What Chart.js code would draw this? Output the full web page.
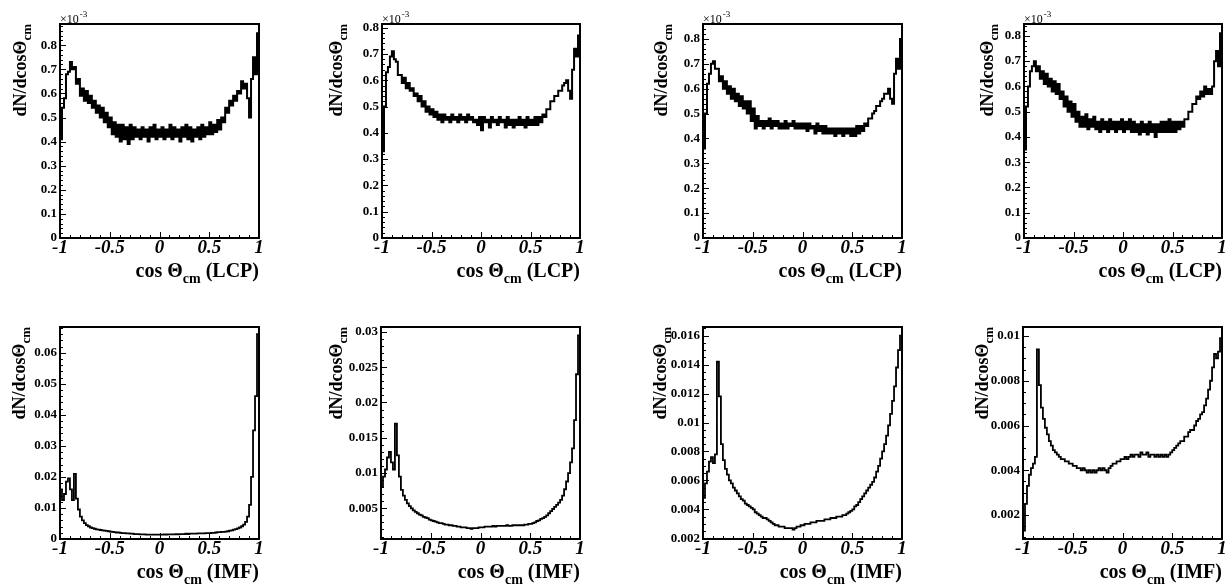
<!DOCTYPE html>
<html>
<head>
<meta charset="utf-8">
<title>cos theta cm distributions</title>
<script src="https://cdn.jsdelivr.net/npm/chart.js@4.4.0/dist/chart.umd.min.js"></script>
<style>
  body { margin: 0; background: #fff; }
  #wrap { position: relative; width: 1232px; height: 587px; overflow: hidden; }
  #wrap canvas { position: absolute; }
</style>
</head>
<body>
<div id="wrap"></div>
<script>
// 100 bins of width 0.02 on [-1, 1]; each series has one value per bin
// plus the value of the narrow last bin drawn at cos = 1
var binLow = -1, binWidth = 0.02, nBins = 100;

// LCP, in units of 1e-3
var lcp1 = [
  0.41, 0.54, 0.58, 0.68, 0.69, 0.73, 0.70, 0.71, 0.64, 0.66,
  0.59, 0.62, 0.57, 0.61, 0.56, 0.59, 0.54, 0.57, 0.52, 0.55,
  0.50, 0.54, 0.48, 0.52, 0.46, 0.50, 0.43, 0.48, 0.42, 0.47,
  0.40, 0.47, 0.41, 0.46, 0.39, 0.47, 0.41, 0.46, 0.42, 0.45,
  0.41, 0.46, 0.42, 0.45, 0.40, 0.46, 0.42, 0.47, 0.41, 0.45,
  0.42, 0.46, 0.41, 0.45, 0.42, 0.47, 0.41, 0.46, 0.42, 0.45,
  0.40, 0.46, 0.42, 0.47, 0.41, 0.46, 0.40, 0.45, 0.42, 0.46,
  0.41, 0.47, 0.42, 0.46, 0.43, 0.48, 0.43, 0.47, 0.44, 0.49,
  0.45, 0.50, 0.48, 0.54, 0.52, 0.57, 0.55, 0.59, 0.57, 0.61,
  0.60, 0.65, 0.62, 0.64, 0.58, 0.50, 0.66, 0.75, 0.68, 0.85,
  0.64
];
var lcp2 = [
  0.33, 0.50, 0.63, 0.65, 0.69, 0.71, 0.68, 0.67, 0.62, 0.62,
  0.59, 0.61, 0.57, 0.59, 0.56, 0.57, 0.54, 0.55, 0.52, 0.54,
  0.50, 0.52, 0.48, 0.50, 0.47, 0.49, 0.46, 0.48, 0.45, 0.47,
  0.44, 0.47, 0.45, 0.46, 0.44, 0.47, 0.45, 0.46, 0.44, 0.47,
  0.45, 0.46, 0.44, 0.47, 0.45, 0.46, 0.44, 0.45, 0.43, 0.46,
  0.41, 0.46, 0.44, 0.45, 0.42, 0.46, 0.44, 0.45, 0.43, 0.46,
  0.44, 0.45, 0.42, 0.46, 0.43, 0.45, 0.42, 0.45, 0.43, 0.46,
  0.43, 0.45, 0.42, 0.46, 0.43, 0.45, 0.43, 0.46, 0.43, 0.46,
  0.44, 0.47, 0.46, 0.49, 0.49, 0.52, 0.52, 0.54, 0.54, 0.56,
  0.56, 0.58, 0.59, 0.60, 0.56, 0.53, 0.64, 0.72, 0.69, 0.77,
  0.65
];
var lcp3 = [
  0.36, 0.50, 0.62, 0.66, 0.70, 0.71, 0.68, 0.68, 0.63, 0.65,
  0.60, 0.63, 0.58, 0.61, 0.56, 0.60, 0.55, 0.58, 0.53, 0.57,
  0.52, 0.55, 0.50, 0.55, 0.47, 0.52, 0.44, 0.49, 0.45, 0.47,
  0.44, 0.47, 0.45, 0.48, 0.44, 0.47, 0.45, 0.47, 0.44, 0.46,
  0.44, 0.47, 0.44, 0.46, 0.45, 0.47, 0.44, 0.46, 0.44, 0.46,
  0.44, 0.46, 0.43, 0.46, 0.44, 0.45, 0.42, 0.46, 0.43, 0.45,
  0.42, 0.45, 0.42, 0.44, 0.42, 0.44, 0.41, 0.44, 0.42, 0.44,
  0.41, 0.44, 0.42, 0.44, 0.41, 0.44, 0.41, 0.45, 0.42, 0.45,
  0.43, 0.46, 0.45, 0.48, 0.48, 0.50, 0.51, 0.53, 0.53, 0.55,
  0.56, 0.58, 0.58, 0.60, 0.56, 0.54, 0.66, 0.72, 0.68, 0.80,
  0.68
];
var lcp4 = [
  0.35, 0.52, 0.60, 0.66, 0.68, 0.70, 0.66, 0.68, 0.63, 0.66,
  0.61, 0.65, 0.60, 0.63, 0.58, 0.62, 0.57, 0.61, 0.55, 0.58,
  0.52, 0.56, 0.50, 0.54, 0.48, 0.53, 0.46, 0.50, 0.44, 0.48,
  0.44, 0.49, 0.43, 0.47, 0.44, 0.48, 0.43, 0.46, 0.42, 0.47,
  0.43, 0.46, 0.42, 0.47, 0.43, 0.46, 0.42, 0.46, 0.43, 0.47,
  0.42, 0.46, 0.43, 0.47, 0.42, 0.46, 0.42, 0.45, 0.41, 0.46,
  0.42, 0.45, 0.41, 0.46, 0.42, 0.45, 0.40, 0.45, 0.42, 0.46,
  0.42, 0.46, 0.42, 0.47, 0.42, 0.46, 0.42, 0.46, 0.43, 0.46,
  0.44, 0.47, 0.47, 0.50, 0.50, 0.53, 0.53, 0.56, 0.55, 0.58,
  0.56, 0.60, 0.57, 0.59, 0.57, 0.60, 0.70, 0.74, 0.68, 0.81,
  0.68
];

// IMF
var imf1 = [
  0.0160, 0.0125, 0.0145, 0.0185, 0.0195, 0.0160, 0.0125, 0.0210, 0.0130, 0.0095,
  0.0072, 0.0060, 0.0051, 0.0045, 0.0041, 0.0037, 0.0035, 0.0033, 0.0031, 0.0030,
  0.0029, 0.0028, 0.0027, 0.0026, 0.0025, 0.0024, 0.0023, 0.0022, 0.0021, 0.0021,
  0.0020, 0.0019, 0.0019, 0.0018, 0.0018, 0.0017, 0.0017, 0.0016, 0.0016, 0.0016,
  0.0015, 0.0015, 0.0015, 0.0014, 0.0014, 0.0014, 0.0014, 0.0014, 0.0014, 0.0014,
  0.0014, 0.0014, 0.0015, 0.0014, 0.0015, 0.0015, 0.0015, 0.0015, 0.0016, 0.0015,
  0.0016, 0.0016, 0.0016, 0.0017, 0.0016, 0.0017, 0.0017, 0.0017, 0.0017, 0.0018,
  0.0018, 0.0018, 0.0018, 0.0019, 0.0019, 0.0019, 0.0020, 0.0020, 0.0021, 0.0022,
  0.0022, 0.0023, 0.0023, 0.0024, 0.0025, 0.0027, 0.0028, 0.0030, 0.0032, 0.0034,
  0.0037, 0.0041, 0.0046, 0.0055, 0.0072, 0.0110, 0.0200, 0.0350, 0.0460, 0.0660,
  0.0300
];
var imf2 = [
  0.0080, 0.0095, 0.0105, 0.0122, 0.0130, 0.0115, 0.0105, 0.0170, 0.0125, 0.0095,
  0.0076, 0.0068, 0.0062, 0.0057, 0.0053, 0.0050, 0.0047, 0.0045, 0.0043, 0.0041,
  0.0040, 0.0038, 0.0037, 0.0036, 0.0034, 0.0033, 0.0032, 0.0031, 0.0030, 0.0029,
  0.0029, 0.0028, 0.0027, 0.0027, 0.0026, 0.0026, 0.0025, 0.0025, 0.0024, 0.0024,
  0.0023, 0.0023, 0.0023, 0.0022, 0.0022, 0.0021, 0.0022, 0.0022, 0.0022, 0.0023,
  0.0023, 0.0023, 0.0024, 0.0024, 0.0024, 0.0024, 0.0025, 0.0024, 0.0025, 0.0025,
  0.0025, 0.0025, 0.0025, 0.0026, 0.0025, 0.0025, 0.0026, 0.0026, 0.0026, 0.0026,
  0.0026, 0.0026, 0.0027, 0.0027, 0.0028, 0.0028, 0.0029, 0.0030, 0.0032, 0.0033,
  0.0035, 0.0036, 0.0038, 0.0040, 0.0043, 0.0046, 0.0049, 0.0052, 0.0055, 0.0058,
  0.0062, 0.0068, 0.0077, 0.0088, 0.0100, 0.0115, 0.0135, 0.0175, 0.0240, 0.0295,
  0.0080
];
var imf3 = [
  0.0048, 0.0058, 0.0066, 0.0073, 0.0076, 0.0072, 0.0078, 0.0142, 0.0118, 0.0085,
  0.0074, 0.0068, 0.0064, 0.0060, 0.0058, 0.0055, 0.0053, 0.0051, 0.0049, 0.0047,
  0.0046, 0.0044, 0.0043, 0.0042, 0.0041, 0.0040, 0.0038, 0.0037, 0.0036, 0.0035,
  0.0034, 0.0034, 0.0033, 0.0032, 0.0031, 0.0030, 0.0029, 0.0029, 0.0028, 0.0028,
  0.0028, 0.0027, 0.0027, 0.0027, 0.0027, 0.0026, 0.0027, 0.0028, 0.0028, 0.0029,
  0.0029, 0.0030, 0.0030, 0.0030, 0.0031, 0.0031, 0.0031, 0.0032, 0.0032, 0.0032,
  0.0032, 0.0033, 0.0033, 0.0033, 0.0034, 0.0034, 0.0034, 0.0035, 0.0035, 0.0035,
  0.0036, 0.0036, 0.0037, 0.0038, 0.0039, 0.0040, 0.0042, 0.0043, 0.0045, 0.0047,
  0.0049, 0.0051, 0.0053, 0.0055, 0.0057, 0.0059, 0.0062, 0.0066, 0.0070, 0.0075,
  0.0080, 0.0085, 0.0091, 0.0098, 0.0106, 0.0115, 0.0125, 0.0138, 0.0150, 0.0160,
  0.0060
];
var imf4 = [
  0.0013, 0.0025, 0.0033, 0.0038, 0.0041, 0.0043, 0.0046, 0.0094, 0.0078, 0.0068,
  0.0063, 0.0059, 0.0056, 0.0053, 0.0051, 0.0049, 0.0048, 0.0047, 0.0046, 0.0045,
  0.0045, 0.0044, 0.0044, 0.0043, 0.0043, 0.0042, 0.0042, 0.0041, 0.0041, 0.0040,
  0.0041, 0.0040, 0.0039, 0.0040, 0.0039, 0.0040, 0.0039, 0.0040, 0.0041, 0.0040,
  0.0041, 0.0040, 0.0039, 0.0041, 0.0042, 0.0043, 0.0043, 0.0044, 0.0044, 0.0045,
  0.0045, 0.0046, 0.0045, 0.0046, 0.0047, 0.0046, 0.0047, 0.0047, 0.0046, 0.0048,
  0.0047, 0.0047, 0.0048, 0.0046, 0.0047, 0.0047, 0.0046, 0.0047, 0.0046, 0.0047,
  0.0046, 0.0047, 0.0046, 0.0047, 0.0048, 0.0049, 0.0050, 0.0051, 0.0052, 0.0053,
  0.0053, 0.0055, 0.0055, 0.0057, 0.0058, 0.0058, 0.0060, 0.0062, 0.0063, 0.0065,
  0.0066, 0.0069, 0.0072, 0.0076, 0.0080, 0.0086, 0.0092, 0.0090, 0.0093, 0.0099,
  0.0050
];

// tick labels
var xTicks = [-1, -0.5, 0, 0.5, 1];
var xTickLabels = ['-1', '-0.5', '0', '0.5', '1'];
var lcpTicks = [0, 0.1, 0.2, 0.3, 0.4, 0.5, 0.6, 0.7, 0.8];
var lcpTickLabels = ['0', '0.1', '0.2', '0.3', '0.4', '0.5', '0.6', '0.7', '0.8'];
var imf1Ticks = [0, 0.01, 0.02, 0.03, 0.04, 0.05, 0.06];
var imf1TickLabels = ['0', '0.01', '0.02', '0.03', '0.04', '0.05', '0.06'];
var imf2Ticks = [0.005, 0.01, 0.015, 0.02, 0.025, 0.03];
var imf2TickLabels = ['0.005', '0.01', '0.015', '0.02', '0.025', '0.03'];
var imf3Ticks = [0.002, 0.004, 0.006, 0.008, 0.01, 0.012, 0.014, 0.016];
var imf3TickLabels = ['0.002', '0.004', '0.006', '0.008', '0.01', '0.012', '0.014', '0.016'];
var imf4Ticks = [0.002, 0.004, 0.006, 0.008, 0.01];
var imf4TickLabels = ['0.002', '0.004', '0.006', '0.008', '0.01'];

var SERIF = '"Liberation Serif", "Times New Roman", serif';

// frame = [left, top, right, bottom] in page pixels
var panels = [
  { data: lcp1, tag: 'LCP', col: 0, row: 0, frame: [60, 24, 259, 238], yMin: 0, yMax: 0.888, ticks: lcpTicks, labels: lcpTickLabels, minor: 0.02, exp: true, titleOff: 34 },
  { data: lcp2, tag: 'LCP', col: 1, row: 0, frame: [382, 24, 580, 238], yMin: 0, yMax: 0.814, ticks: lcpTicks, labels: lcpTickLabels, minor: 0.02, exp: true, titleOff: 40 },
  { data: lcp3, tag: 'LCP', col: 2, row: 0, frame: [703, 24, 902, 238], yMin: 0, yMax: 0.86, ticks: lcpTicks, labels: lcpTickLabels, minor: 0.02, exp: true, titleOff: 36 },
  { data: lcp4, tag: 'LCP', col: 3, row: 0, frame: [1024, 24, 1222, 238], yMin: 0, yMax: 0.847, ticks: lcpTicks, labels: lcpTickLabels, minor: 0.02, exp: true, titleOff: 31 },
  { data: imf1, tag: 'IMF', col: 0, row: 1, frame: [60, 327, 259, 539], yMin: 0, yMax: 0.0683, ticks: imf1Ticks, labels: imf1TickLabels, minor: 0.002, exp: false, titleOff: 35 },
  { data: imf2, tag: 'IMF', col: 1, row: 1, frame: [381, 327, 580, 539], yMin: 0.00065, yMax: 0.0307, ticks: imf2Ticks, labels: imf2TickLabels, minor: 0.001, exp: false, titleOff: 39 },
  { data: imf3, tag: 'IMF', col: 2, row: 1, frame: [703, 327, 902, 539], yMin: 0.00195, yMax: 0.0166, ticks: imf3Ticks, labels: imf3TickLabels, minor: 0.0005, exp: false, titleOff: 37 },
  { data: imf4, tag: 'IMF', col: 3, row: 1, frame: [1023, 327, 1222, 539], yMin: 0.00093, yMax: 0.0104, ticks: imf4Ticks, labels: imf4TickLabels, minor: 0.0005, exp: false, titleOff: 35 }
];

function textParts(ctx, parts, x, y, size) {
  for (var i = 0; i < parts.length; i++) {
    var p = parts[i];
    ctx.font = 'bold ' + (p.sub ? Math.round(size * 0.7) : size) + 'px ' + SERIF;
    ctx.fillText(p.t, x, y + (p.sub ? size * 0.28 : 0));
    x += ctx.measureText(p.t).width;
  }
}
function partsWidth(ctx, parts, size) {
  var w = 0;
  for (var i = 0; i < parts.length; i++) {
    ctx.font = 'bold ' + (parts[i].sub ? Math.round(size * 0.7) : size) + 'px ' + SERIF;
    w += ctx.measureText(parts[i].t).width;
  }
  return w;
}

// ROOT-like frame, inside ticks, labels and titles
var rootAxes = {
  id: 'rootAxes',
  afterDraw: function (chart) {
    var ctx = chart.ctx, a = chart.chartArea;
    var xs = chart.scales.x, ys = chart.scales.y;
    var p = chart.options.plugins.rootAxes;
    var k, px;
    ctx.save();
    ctx.strokeStyle = '#000';
    ctx.fillStyle = '#000';

    // ticks
    ctx.lineWidth = 1;
    ctx.beginPath();
    for (k = 0; k <= 20; k++) {
      px = Math.round(xs.getPixelForValue(-1 + k * 0.1)) + 0.5;
      ctx.moveTo(px, a.bottom);
      ctx.lineTo(px, a.bottom - (k % 5 === 0 ? 6 : 3));
    }
    var first = Math.ceil(p.yMin / p.minor - 1e-6), last = Math.floor(p.yMax / p.minor + 1e-6);
    for (k = first; k <= last; k++) {
      var py = Math.round(ys.getPixelForValue(k * p.minor)) + 0.5;
      var major = p.ticks.some(function (t) { return Math.abs(t - k * p.minor) < p.minor * 0.1; });
      ctx.moveTo(a.left, py);
      ctx.lineTo(a.left + (major ? 6 : 3), py);
    }
    ctx.stroke();

    // frame
    ctx.lineWidth = 2;
    ctx.strokeRect(a.left, a.top, a.right - a.left, a.bottom - a.top);

    // x tick labels
    ctx.font = 'italic bold 19px ' + SERIF;
    ctx.textAlign = 'center';
    ctx.textBaseline = 'alphabetic';
    for (k = 0; k < xTicks.length; k++) {
      ctx.fillText(xTickLabels[k], xs.getPixelForValue(xTicks[k]), a.bottom + 15);
    }

    // y tick labels
    ctx.font = 'bold 13px ' + SERIF;
    ctx.textAlign = 'right';
    ctx.textBaseline = 'middle';
    for (k = 0; k < p.ticks.length; k++) {
      ctx.fillText(p.labels[k], a.left - 3, ys.getPixelForValue(p.ticks[k]));
    }

    // x title, right aligned at frame end
    ctx.textAlign = 'left';
    ctx.textBaseline = 'alphabetic';
    var xt = [{ t: 'cos \u0398' }, { t: 'cm', sub: true }, { t: ' (' + p.tag + ')' }];
    textParts(ctx, xt, a.right - partsWidth(ctx, xt, 20), a.bottom + 39, 20);

    // y title, rotated, ending at the frame top
    var yt = [{ t: 'dN/dcos\u0398' }, { t: 'cm', sub: true }];
    ctx.save();
    ctx.translate(a.left - p.titleOff, a.top);
    ctx.rotate(-Math.PI / 2);
    textParts(ctx, yt, -partsWidth(ctx, yt, 18), 0, 18);
    ctx.restore();

    // x10^-3 marker
    if (p.exp) {
      ctx.font = '12px ' + SERIF;
      ctx.fillText('\u00d710', a.left, a.top - 1);
      var w = ctx.measureText('\u00d710').width;
      ctx.font = '9px ' + SERIF;
      ctx.fillText('-3', a.left + w + 1, a.top - 7);
    }
    ctx.restore();
  }
};

var wrap = document.getElementById('wrap');
panels.forEach(function (pn) {
  var cw = 308, ch = pn.row === 0 ? 293 : 294;
  var ox = pn.col * 308, oy = pn.row === 0 ? 0 : 293;
  var cv = document.createElement('canvas');
  cv.width = cw; cv.height = ch;
  cv.style.left = ox + 'px'; cv.style.top = oy + 'px';
  cv.style.width = cw + 'px'; cv.style.height = ch + 'px';
  wrap.appendChild(cv);

  var pts = [];
  for (var i = 0; i <= nBins; i++) {
    pts.push({ x: binLow + i * binWidth, y: pn.data[i] });
  }

  new Chart(cv, {
    type: 'line',
    data: {
      datasets: [{
        data: pts,
        borderColor: '#000',
        borderWidth: pn.tag === 'LCP' ? 2 : 1.8,
        stepped: true,
        pointRadius: 0,
        fill: false
      }]
    },
    options: {
      responsive: false,
      animation: false,
      devicePixelRatio: 1,
      layout: {
        padding: {
          left: pn.frame[0] - ox,
          top: pn.frame[1] - oy,
          right: ox + cw - pn.frame[2],
          bottom: oy + ch - pn.frame[3]
        }
      },
      plugins: {
        legend: { display: false },
        tooltip: { enabled: false },
        rootAxes: { yMin: pn.yMin, yMax: pn.yMax, ticks: pn.ticks, labels: pn.labels, minor: pn.minor, exp: pn.exp, tag: pn.tag, titleOff: pn.titleOff }
      },
      scales: {
        x: { type: 'linear', min: -1, max: 1, display: false },
        y: { type: 'linear', min: pn.yMin, max: pn.yMax, display: false }
      }
    },
    plugins: [rootAxes]
  });
});
</script>
</body>
</html>
